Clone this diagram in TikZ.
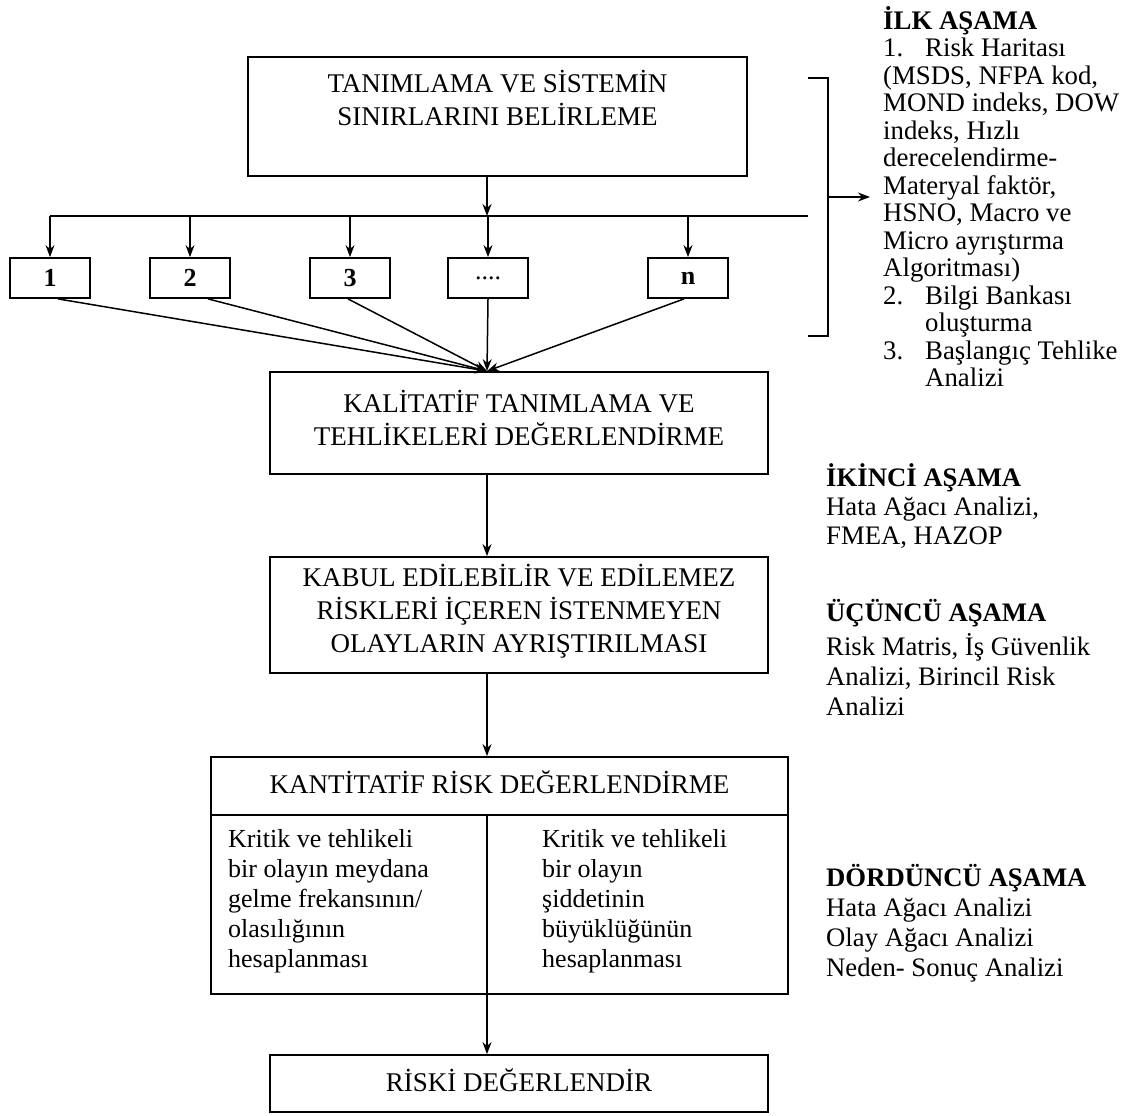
\documentclass[tikz,border=0pt]{standalone}
\usepackage{fontspec}
\setmainfont{Liberation Serif}
\usetikzlibrary{arrows.meta}
\begin{document}
\begin{tikzpicture}[x=1pt,y=-1pt,
  box/.style={draw, line width=1.8pt, inner sep=0pt},
  numbox/.style={box, minimum width=80pt, minimum height=40pt, font=\fontsize{26}{30}\selectfont\bfseries},
  boxtext/.style={font=\fontsize{27}{33}\selectfont, align=center, inner sep=0pt},
  coltext/.style={font=\fontsize{26}{30}\selectfont, align=left, anchor=north west, inner sep=0pt},
  side/.style={font=\fontsize{26.8}{27.5}\selectfont, align=left, anchor=north west, inner sep=0pt},
  sidewide/.style={font=\fontsize{26.7}{30}\selectfont, align=left, anchor=north west, inner sep=0pt},
  link/.style={line width=1.5pt},
  arr/.style={link, -{Stealth[length=12pt,width=9pt]}},
]
\useasboundingbox (0,0) rectangle (1139,1115);

% main spine and distribution bus
\coordinate (spine) at (487,0);
\coordinate (bus) at (0,216);
\coordinate (busR) at (808,216);

% boxes
\node[box, minimum width=499pt, minimum height=119pt] (A) at (497.5,116.5) {};
\node[boxtext] (At) at (497.5,97.5) {TANIMLAMA VE SİSTEMİN\\SINIRLARINI BELİRLEME};

\node[numbox] (b1) at (50,278) {1};
\node[numbox] (b2) at (190,278) {2};
\node[numbox] (b3) at (350,278) {3};
\node[numbox, font=\fontsize{26}{30}\selectfont] (b4) at (488,278) {....};
\node[numbox] (b5) at (688,278) {n};

\node[box, minimum width=498pt, minimum height=102pt] (B) at (519,423) {};
\node[boxtext] (Bt) at (519,417.5) {KALİTATİF TANIMLAMA VE\\TEHLİKELERİ DEĞERLENDİRME};

\node[box, minimum width=498pt, minimum height=116pt] (C) at (519,615) {};
\node[boxtext] (Ct) at (519,611.5) {KABUL EDİLEBİLİR VE EDİLEMEZ\\RİSKLERİ İÇEREN İSTENMEYEN\\OLAYLARIN AYRIŞTIRILMASI};

\node[box, minimum width=577pt, minimum height=237pt] (D) at (499.5,875.5) {};
\node[boxtext] (Dt) at (499.5,782) {KANTİTATİF RİSK DEĞERLENDİRME};
\coordinate (dv) at (0,815);
\node[coltext] (Dl) at (228,829) {Kritik ve tehlikeli\\bir olayın meydana\\gelme frekansının/\\olasılığının\\hesaplanması};
\node[coltext] (Dr) at (542,829) {Kritik ve tehlikeli\\bir olayın\\şiddetinin\\büyüklüğünün\\hesaplanması};

\node[box, minimum width=498pt, minimum height=57pt] (E) at (519,1083.5) {};
\node[boxtext] (Et) at (519,1080) {RİSKİ DEĞERLENDİR};

% connectors
\draw[arr] (A.south -| spine) -- (bus -| spine);
\draw[link] (bus -| b1) -- (busR);
\foreach \b in {b1,b2,b3,b4,b5}
  \draw[arr] (bus -| \b) -- (\b.north);
\draw[arr] ([xshift=8pt]b1.south) -- (B.north -| spine);
\draw[arr] ([xshift=18pt]b2.south) -- (B.north -| spine);
\draw[arr] ([xshift=-2pt]b3.south) -- (B.north -| spine);
\draw[arr] (b4.south) -- (B.north -| spine);
\draw[arr] ([xshift=-4pt]b5.south) -- (B.north -| spine);
\draw[arr] (B.south -| spine) -- (C.north -| spine);
\draw[arr] (C.south -| spine) -- (D.north -| spine);
\draw[link] (D.west |- dv) -- (D.east |- dv);
\draw[arr] (spine |- dv) -- (E.north -| spine);

% bracket gathering the first stage
\coordinate (brT) at (828,78);
\coordinate (brB) at (828,336);
\coordinate (brM) at (828,197);
\coordinate (brO) at (870,197);
\draw[link] ([xshift=-20pt]brT) -- (brT) -- (brB) -- ([xshift=-20pt]brB);
\draw[arr] (brM) -- (brO);

% stage notes
\node[side] (s1) at (883,6) {\textbf{İLK AŞAMA}\\
\makebox[42pt][l]{1.}Risk Haritası\\
(MSDS, NFPA kod,\\
MOND indeks, DOW\\
indeks, Hızlı\\
derecelendirme-\\
Materyal faktör,\\
HSNO, Macro ve\\
Micro ayrıştırma\\
Algoritması)\\
\makebox[42pt][l]{2.}Bilgi Bankası\\
\hspace*{42pt}oluşturma\\
\makebox[42pt][l]{3.}Başlangıç Tehlike\\
\hspace*{42pt}Analizi};

\node[sidewide] (s2) at (826,463) {\textbf{İKİNCİ AŞAMA}\\[-1pt]Hata Ağacı Analizi,\\[-1pt]FMEA, HAZOP};
\node[sidewide] (s3) at (826,599) {\textbf{ÜÇÜNCÜ AŞAMA}\\[4pt]Risk Matris, İş Güvenlik\\Analizi, Birincil Risk\\Analizi};
\node[sidewide] (s4) at (826,864) {\textbf{DÖRDÜNCÜ AŞAMA}\\Hata Ağacı Analizi\\Olay Ağacı Analizi\\Neden- Sonuç Analizi};
\end{tikzpicture}
\end{document}
